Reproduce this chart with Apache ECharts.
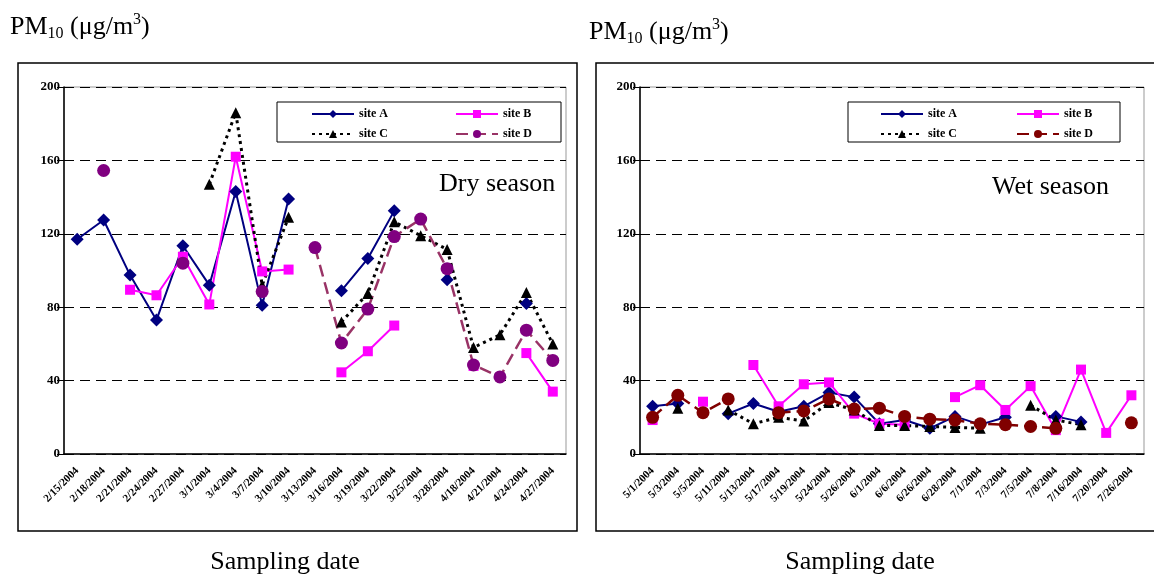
<!DOCTYPE html>
<html>
<head>
<meta charset="utf-8">
<script src="https://cdn.jsdelivr.net/npm/echarts@6/dist/echarts.min.js"></script>
<style>
  html, body { margin: 0; padding: 0; background: #fff; }
  #dry { position: absolute; left: 0; top: 0; width: 580px; height: 578px; }
  #wet { position: absolute; left: 580px; top: 0; width: 574px; height: 578px; }
</style>
</head>
<body>
<div id="dry"></div>
<div id="wet"></div>
<script>
const serif = "'Liberation Serif', 'Times New Roman', serif"

// dry season (PM10, ug/m3)
const dryDates = ['2/15/2004', '2/18/2004', '2/21/2004', '2/24/2004', '2/27/2004', '3/1/2004', '3/4/2004',
  '3/7/2004', '3/10/2004', '3/13/2004', '3/16/2004', '3/19/2004', '3/22/2004', '3/25/2004', '3/28/2004',
  '4/18/2004', '4/21/2004', '4/24/2004', '4/27/2004']
const dryA = [117, 127.5, 97.5, 73, 113.5, 92, 143, 81, 139, null, 89, 106.5, 132.5, null, 95, null, null, 82, null]
const dryB = [null, null, 89.5, 86.5, 107.5, 81.5, 162, 99.5, 100.5, null, 44.5, 56, 70, null, null, 48, null, 55, 34]
const dryC = [null, null, null, null, null, 147, 186, 92, 129, null, 72, 87.5, 126.5, 119, 111.5, 58, 65, 88, 60]
const dryD = [null, 154.5, null, null, 104, null, null, 88.5, null, 112.5, 60.5, 79, 118.5, 128, 101, 48.5, 42, 67.5, 51]

// wet season (PM10, ug/m3)
const wetDates = ['5/1/2004', '5/3/2004', '5/5/2004', '5/11/2004', '5/13/2004', '5/17/2004', '5/19/2004',
  '5/24/2004', '5/26/2004', '6/1/2004', '6/6/2004', '6/26/2004', '6/28/2004', '7/1/2004', '7/3/2004',
  '7/5/2004', '7/8/2004', '7/16/2004', '7/20/2004', '7/26/2004']
const wetA = [26, 27.5, null, 22, 27.5, 23, 26, 33.5, 31, 16.5, 18.5, 14, 20.5, 16, 20, null, 20.5, 17.5, null, null]
const wetB = [18.5, null, 28.5, null, 48.5, 26, 38, 39, 22, 16.5, 16, null, 31, 37.5, 24, 37, 13, 46, 11.5, 32]
const wetC = [null, 25, null, 24, 16.5, 20, 18, 28, 24, 15.5, 15.5, 15, 14.5, 14, null, 26.5, 18.5, 16, null, null]
const wetD = [20, 32, 22.5, 30, null, 22.5, 23.5, 30, 24.5, 25, 20.5, 19, 18.5, 16.5, 16, 15, 14, null, null, 17]

const yTicks = [0, 40, 80, 120, 160, 200]

function legendOf(names, left) {
  return {
    data: names,
    orient: 'vertical',
    left: left,
    top: 108,
    padding: 0,
    itemWidth: 42,
    itemHeight: 10,
    itemGap: 8,
    selectedMode: false,
    textStyle: { fontFamily: serif, fontWeight: 'bold', fontSize: 12, color: '#000' },
  }
}

function buildOption(cfg) {
  const lab = { fontFamily: serif, fontWeight: 'bold', color: '#000' }
  return {
    animation: false,
    backgroundColor: '#fff',
    title: {
      left: cfg.titleX,
      top: cfg.titleY,
      padding: 0,
      text: '{a|PM}{s|10}{a| (μg/m}{p|3}{a|)}',
      textStyle: {
        fontWeight: 'normal',
        rich: {
          a: { fontFamily: serif, fontWeight: 'normal', fontSize: 26, lineHeight: 30, color: '#000' },
          s: { fontFamily: serif, fontWeight: 'normal', fontSize: 16, lineHeight: 16, verticalAlign: 'bottom', color: '#000' },
          p: { fontFamily: serif, fontWeight: 'normal', fontSize: 16, lineHeight: 16, verticalAlign: 'top', color: '#000' },
        },
      },
    },
    graphic: [
      { type: 'rect', silent: true, shape: cfg.box, style: { fill: 'none', stroke: '#000', lineWidth: 1.5 } },
      { type: 'rect', silent: true, z: 10, shape: cfg.legendBox, style: { fill: 'none', stroke: '#000', lineWidth: 1 } },
      {
        type: 'text', silent: true, x: cfg.seasonX, y: cfg.seasonY,
        style: { text: cfg.season, font: '26px ' + serif, fill: '#000', align: 'left', verticalAlign: 'middle', textAlign: 'left', textVerticalAlign: 'middle' },
      },
      {
        type: 'text', silent: true, x: cfg.dateX, y: 562,
        style: { text: 'Sampling date', font: '26px ' + serif, fill: '#000', align: 'center', verticalAlign: 'middle', textAlign: 'center', textVerticalAlign: 'middle' },
      },
    ],
    legend: [legendOf(['site A', 'site C'], cfg.legX1), legendOf(['site B', 'site D'], cfg.legX2)],
    grid: {
      left: cfg.gridLeft, top: 87, width: cfg.gridWidth, height: 367,
      show: true, borderColor: '#999', borderWidth: 1, backgroundColor: 'transparent',
    },
    xAxis: {
      type: 'category',
      data: cfg.dates,
      boundaryGap: true,
      axisLine: { lineStyle: { color: '#000', width: 1.5 } },
      axisTick: { interval: 0, length: 5, lineStyle: { color: '#000' } },
      axisLabel: Object.assign({ interval: 0, rotate: 45, margin: 15, fontSize: 11 }, lab),
    },
    yAxis: {
      type: 'value',
      min: yTicks[0],
      max: yTicks[yTicks.length - 1],
      interval: 40,
      axisLine: { show: true, lineStyle: { color: '#000', width: 1.5 } },
      axisTick: { show: true, length: 7, lineStyle: { color: '#000' } },
      axisLabel: Object.assign({ margin: 4, fontSize: 13 }, lab),
      splitLine: { lineStyle: { type: [10, 6], color: '#000', width: 1 } },
    },
    series: [
      {
        name: 'site A', type: 'line', data: cfg.a, showAllSymbol: true,
        symbol: 'diamond', symbolSize: 13,
        itemStyle: { color: '#000080' }, lineStyle: { color: '#000080', width: 2 },
      },
      {
        name: 'site B', type: 'line', data: cfg.b, showAllSymbol: true,
        symbol: 'rect', symbolSize: 10,
        itemStyle: { color: '#FF00FF' }, lineStyle: { color: '#FF00FF', width: 2 },
      },
      {
        name: 'site C', type: 'line', data: cfg.c, showAllSymbol: true,
        symbol: 'triangle', symbolSize: 11,
        itemStyle: { color: '#000' }, lineStyle: { color: '#000', width: 3, type: [3, 4] },
      },
      {
        name: 'site D', type: 'line', data: cfg.d, showAllSymbol: true,
        symbol: 'circle', symbolSize: 13,
        itemStyle: { color: cfg.dColor }, lineStyle: { color: cfg.dLine, width: 2.5, type: [12, 6] },
      },
    ],
  }
}

const dryChart = echarts.init(document.getElementById('dry'))
dryChart.setOption(buildOption({
  dates: dryDates, a: dryA, b: dryB, c: dryC, d: dryD,
  dColor: '#800080', dLine: '#993366',
  titleX: 10, titleY: 12,
  box: { x: 18, y: 63, width: 559, height: 468 },
  legendBox: { x: 277, y: 102, width: 284, height: 40 },
  legX1: 311, legX2: 455,
  season: 'Dry season', seasonX: 439, seasonY: 184,
  dateX: 285,
  gridLeft: 64, gridWidth: 502,
}))

const wetChart = echarts.init(document.getElementById('wet'))
wetChart.setOption(buildOption({
  dates: wetDates, a: wetA, b: wetB, c: wetC, d: wetD,
  dColor: '#800000', dLine: '#800000',
  titleX: 9, titleY: 17,
  box: { x: 16, y: 63, width: 600, height: 468 },
  legendBox: { x: 268, y: 102, width: 272, height: 40 },
  legX1: 300, legX2: 436,
  season: 'Wet season', seasonX: 412, seasonY: 187,
  dateX: 280,
  gridLeft: 60, gridWidth: 504,
}))
</script>
</body>
</html>
